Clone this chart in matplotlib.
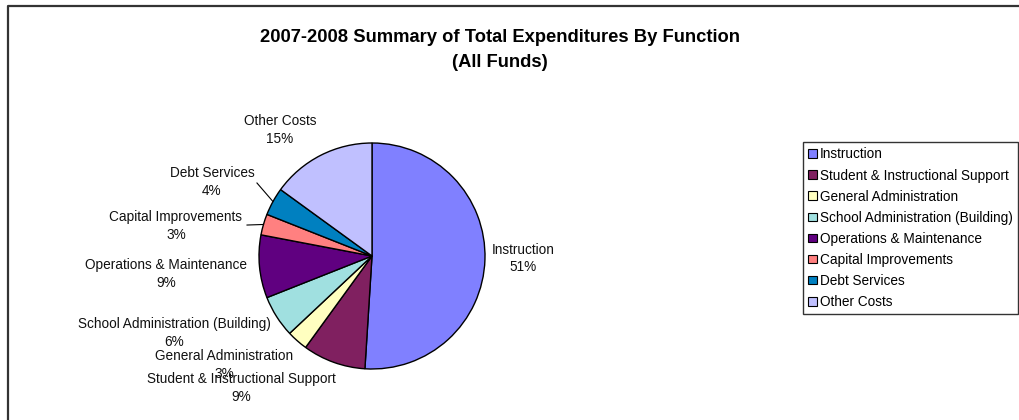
import matplotlib
matplotlib.use('Agg')
import matplotlib.pyplot as plt
import numpy as np
from matplotlib.patches import Patch

plt.rcParams['font.family'] = ['Liberation Sans', 'DejaVu Sans']

# data
categories = ['Instruction', 'Student & Instructional Support', 'General Administration',
              'School Administration (Building)', 'Operations & Maintenance',
              'Capital Improvements', 'Debt Services', 'Other Costs']
percents = [51, 9, 3, 6, 9, 3, 4, 15]

colors = ['#8080FF', '#802060', '#FFFFC0', '#A0E0E0', '#600080', '#FF8080', '#0080C0', '#C0C0FF']

# label centres, in pie radius units from the centre
label_pos = [(1.336, -0.02), (-1.159, -1.168), (-1.31, -0.965), (-1.752, -0.681),
             (-1.823, -0.159), (-1.735, 0.265), (-1.416, 0.655), (-0.814, 1.115)]
# leader line starts (only for the two small slices on the left)
leaders = {5: (-1.106, 0.274), 6: (-1.018, 0.646)}

W, H = 1019, 420
fig = plt.figure(figsize=(W / 100, H / 100), dpi=100)
ax = fig.add_axes([0, 0, 1, 1])

cx, cy, r = 372, H - 256, 113

wedges, _ = ax.pie(percents, colors=colors, startangle=90, counterclock=False,
                   center=(cx, cy), radius=r, frame=True,
                   wedgeprops=dict(edgecolor='black', linewidth=1))
ax.set_xlim(0, W)
ax.set_ylim(0, H)
ax.set_aspect('equal')
ax.axis('off')

for i, (name, p) in enumerate(zip(categories, percents)):
    lx, ly = label_pos[i]
    ax.text(cx + lx * r, cy + ly * r, '%s\n%d%%' % (name, p), ha='center', va='center',
            multialignment='center', fontsize=9.8, linespacing=1.3, color='#111111')
    if i in leaders:
        w = wedges[i]
        mid = np.deg2rad((w.theta1 + w.theta2) / 2)
        sx, sy = leaders[i]
        ax.plot([cx + sx * r, cx + np.cos(mid) * r], [cy + sy * r, cy + np.sin(mid) * r],
                color='black', lw=0.8)

# title
fig.text(500 / W, (H - 50) / H, '2007-2008 Summary of Total Expenditures By Function\n(All Funds)',
         ha='center', va='center', fontsize=13.2, fontweight='bold', linespacing=1.6)

# outer chart border (only left and top visible)
ax.plot([8, 8, W + 5], [-5, H - 6, H - 6], color='#333333', lw=1.6, clip_on=False)

handles = [Patch(facecolor=c, edgecolor='black', linewidth=0.8) for c in colors]
leg = fig.legend(handles, categories, loc='upper left',
                 bbox_to_anchor=(803 / W, (H - 142) / H), borderaxespad=0,
                 fontsize=9.8, frameon=True, fancybox=False, edgecolor='black',
                 handlelength=0.6, handleheight=0.6, handletextpad=0.25,
                 labelspacing=0.52, borderpad=0.4)
leg.get_frame().set_linewidth(1)

fig.savefig('out.png', dpi=100)
